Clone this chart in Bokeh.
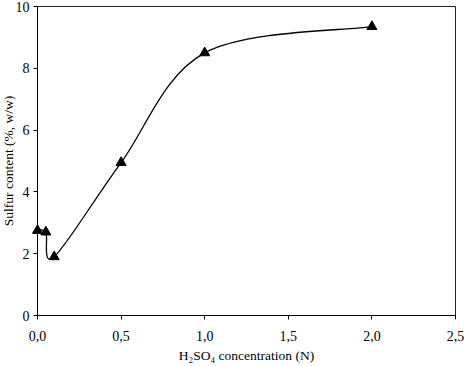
from bokeh.plotting import figure
from bokeh.models import Range1d, FixedTicker
from bokeh.embed import file_html
from bokeh.resources import INLINE

# data
conc = [0.0, 0.05, 0.1, 0.5, 1.0, 2.0]
sulfur = [2.75, 2.7, 1.9, 4.95, 8.5, 9.35]
x_ticks = [0.0, 0.5, 1.0, 1.5, 2.0, 2.5]
x_tick_labels = ["0,0", "0,5", "1,0", "1,5", "2,0", "2,5"]
y_ticks = [0, 2, 4, 6, 8, 10]
x_title = "H₂SO₄ concentration (N)"
y_title = "Sulfur content (%, w/w)"

FONT = "Liberation Serif"

p = figure(width=474, height=366, output_backend="svg", toolbar_location=None,
           x_range=Range1d(0, 2.5), y_range=Range1d(0, 10),
           min_border_left=45, min_border_right=11, min_border_top=6, min_border_bottom=51,
           styles={"position": "relative", "left": "-8px"})
p.grid.visible = False
p.outline_line_color = "#222222"
p.outline_line_width = 1
p.background_fill_color = "white"
p.border_fill_color = "white"

# smoothed line (Catmull-Rom style Bezier segments, as in the original smoothed series)
n = len(conc)
x0s, y0s, x1s, y1s, cx0, cy0, cx1, cy1 = [], [], [], [], [], [], [], []
for i in range(n - 1):
    xp, yp = (conc[i - 1], sulfur[i - 1]) if i > 0 else (conc[i], sulfur[i])
    xn, yn = (conc[i + 2], sulfur[i + 2]) if i + 2 < n else (conc[i + 1], sulfur[i + 1])
    x0s.append(conc[i]); y0s.append(sulfur[i])
    x1s.append(conc[i + 1]); y1s.append(sulfur[i + 1])
    cx0.append(conc[i] + (conc[i + 1] - xp) / 6); cy0.append(sulfur[i] + (sulfur[i + 1] - yp) / 6)
    cx1.append(conc[i + 1] - (xn - conc[i]) / 6); cy1.append(sulfur[i + 1] - (yn - sulfur[i]) / 6)
p.bezier(x0=x0s, y0=y0s, x1=x1s, y1=y1s, cx0=cx0, cy0=cy0, cx1=cx1, cy1=cy1,
         line_color="black", line_width=1.3)

p.scatter(conc, sulfur, marker="triangle", size=10, fill_color="black",
          line_color="black", level="overlay")

for ax in (p.xaxis[0], p.yaxis[0]):
    ax.axis_line_color = "black"
    ax.major_tick_line_color = "black"
    ax.minor_tick_line_color = None
    ax.major_tick_in = 0
    ax.major_tick_out = 4
    ax.major_label_text_font = FONT
    ax.major_label_text_font_size = "14px"
    ax.major_label_text_color = "black"
    ax.axis_label_text_font = FONT
    ax.axis_label_text_font_size = "13.5px"
    ax.axis_label_text_font_style = "normal"
    ax.axis_label_text_color = "black"

p.xaxis.ticker = FixedTicker(ticks=x_ticks)
p.xaxis.major_label_overrides = {t: l for t, l in zip(x_ticks, x_tick_labels)}
p.xaxis.major_label_standoff = 11
p.xaxis.axis_label = x_title
p.xaxis.axis_label_standoff = 4

p.yaxis.ticker = FixedTicker(ticks=y_ticks)
p.yaxis.major_label_standoff = 4
p.yaxis.axis_label = y_title
p.yaxis.axis_label_standoff = -3

open("out.html", "w").write(file_html(p, INLINE))
